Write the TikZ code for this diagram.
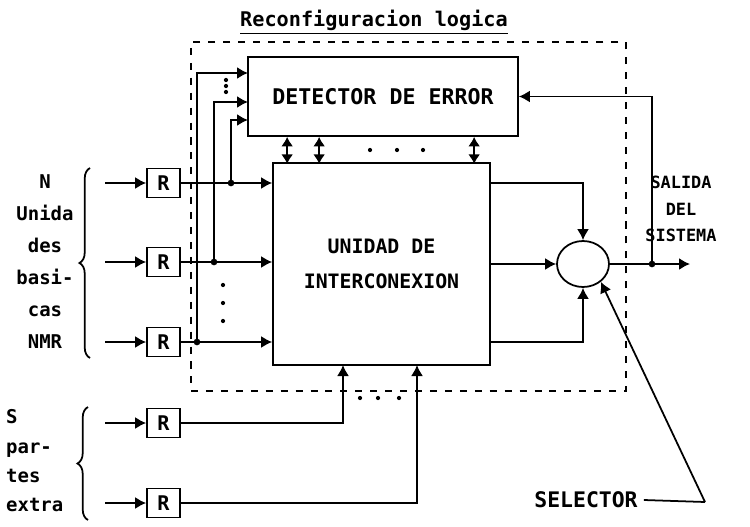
\documentclass[tikz,border=0pt]{standalone}
\usepackage{fontspec}
\newfontfamily\plotfont{DejaVu Sans Mono}
\usetikzlibrary{arrows.meta, positioning, calc, shapes.geometric, decorations.pathreplacing}

\begin{document}
\begin{tikzpicture}[
  x=0.02cm, y=-0.02cm,
  every node/.style={font=\plotfont\bfseries\fontsize{11.5}{14}\selectfont, align=center},
  box/.style={draw, line width=1pt, fill=white, inner sep=2pt},
  rbox/.style={box, minimum width=0.66cm, minimum height=0.58cm},
  arr/.style={-{Latex[length=2.2mm, width=2.4mm]}, line width=1pt},
  biarr/.style={{Latex[length=1.9mm, width=2.4mm]}-{Latex[length=1.9mm, width=2.4mm]}, line width=1pt},
  dot/.style={circle, fill, inner sep=0pt, minimum size=3.8pt},
  sdot/.style={circle, fill, inner sep=0pt, minimum size=2.4pt},
  dashbox/.style={draw, line width=1pt, dash pattern=on 4pt off 4.5pt},
]
  \useasboundingbox (0,0) rectangle (750,527);

  % Reconfiguracion logica (dashed frame)
  \node[dashbox, minimum width=8.7cm, minimum height=6.98cm] (reconf) at (408.5,216.5) {};
  \node (title) at (374,22) {\underline{Reconfiguracion logica}};

  \node[box, minimum width=5.4cm, minimum height=1.58cm,
        font=\plotfont\bfseries\fontsize{12.3}{15}\selectfont] (det) at (383,96.5) {DETECTOR DE ERROR};
  \node[box, minimum width=4.34cm, minimum height=4.04cm,
        font=\plotfont\bfseries\fontsize{11.3}{19.9}\selectfont] (inter) at (381.5,264) {UNIDAD DE\\INTERCONEXION};
  \node[draw, line width=1pt, ellipse, minimum width=1.04cm, minimum height=0.92cm, inner sep=0pt] (sel) at (583,264) {};

  % registros de entrada
  \node[rbox] (r1) at (163.5,183) {R};
  \node[rbox] (r2) at (163.5,262) {R};
  \node[rbox] (r3) at (163.5,342) {R};
  \node[rbox] (r4) at (163.5,423) {R};
  \node[rbox] (r5) at (163.5,503) {R};

  \foreach \i/\y in {1/183, 2/262, 3/342, 4/423, 5/503} {
    \coordinate (in\i) at (105,\y);
    \draw[arr] (in\i) -- (r\i);
  }
  \foreach \i in {1,2,3}
    \draw[arr] (r\i) -- (r\i -| inter.west);

  % derivaciones hacia el detector
  \coordinate (j1) at (231,183);
  \coordinate (j2) at (214,262);
  \coordinate (j3) at (197,342);
  \coordinate (d1) at (248,73);
  \coordinate (d2) at (248,102);
  \coordinate (d3) at (248,120);
  \draw[arr] (j3) |- (d1);
  \draw[arr] (j2) |- (d2);
  \draw[arr] (j1) |- (d3);
  \foreach \j in {j1,j2,j3} \node[dot] at (\j) {};
  \foreach \y in {80,86,92} \node[sdot] at (226,\y) {};
  \foreach \y in {285,303,321} \node[sdot] at (223,\y) {};

  % detector <-> interconexion
  \foreach \dx in {40,72,227}
    \draw[biarr] ($(det.south west)+(\dx,0)$) -- +(0,27);
  \foreach \x in {370,397,423} \node[sdot] at (\x,150) {};

  % partes extra
  \coordinate (s1) at (343,365);
  \coordinate (s2) at (417,365);
  \draw[arr] (r4) -| (s1);
  \draw[arr] (r5) -| (s2);
  \foreach \x in {360,378,399} \node[sdot] at (\x,398) {};

  % selector
  \draw[arr] (inter.east |- r1) -| (sel.north);
  \draw[arr] (inter.east) -- (sel.west);
  \draw[arr] (inter.east |- r3) -| (sel.south);
  \coordinate (out) at (690,264);
  \coordinate (fb) at (652,264);
  \draw[arr] (sel.east) -- (out);
  \draw[arr] (fb) |- (det.east);
  \node[dot] at (fb) {};

  \node[font=\plotfont\bfseries\fontsize{9.6}{15}\selectfont] (salida) at (681,209) {SALIDA\\DEL\\SISTEMA};
  \node[font=\plotfont\bfseries\fontsize{12.2}{14}\selectfont] (seltext) at (586,500) {SELECTOR};
  \coordinate (selk) at (705,502);
  \draw[line width=1pt] (seltext.east) -- (selk);
  \draw[arr] (selk) -- (sel.-45);

  % grupos de entrada
  \node[font=\plotfont\bfseries\fontsize{10.8}{18.2}\selectfont] (ngroup) at (45,262) {N\\Unida\\des\\basi-\\cas\\NMR};
  \draw[line width=1pt, decorate, decoration={brace, amplitude=6pt}] (90,358) -- (90,168);
  \node[anchor=west, align=left, font=\plotfont\bfseries\fontsize{10.8}{16.7}\selectfont] (sgroup) at (0,461) {S\\par-\\tes\\extra};
  \draw[line width=1pt, decorate, decoration={brace, amplitude=6pt}] (88,520) -- (88,407);
\end{tikzpicture}
\end{document}
